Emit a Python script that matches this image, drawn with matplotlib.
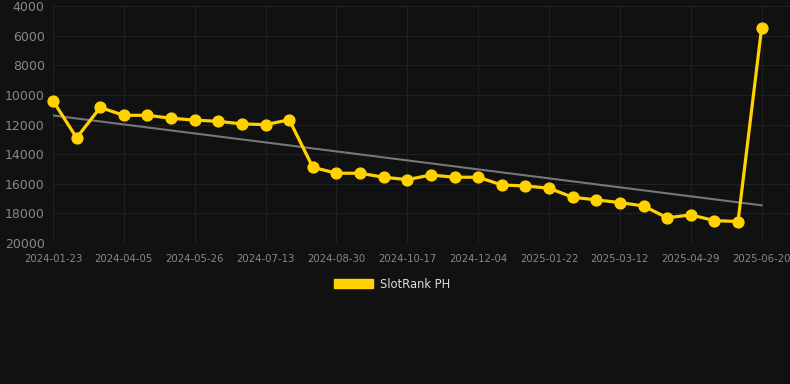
import numpy as np
import matplotlib
matplotlib.use("Agg")
import matplotlib.pyplot as plt
from matplotlib.patches import Patch

# category labels (one per data point; only every third is shown)
dates = ["2024-01-23", "2024-02-08", "2024-02-24", "2024-04-05", "2024-04-22",
         "2024-05-09", "2024-05-26", "2024-06-11", "2024-06-27", "2024-07-13",
         "2024-07-29", "2024-08-14", "2024-08-30", "2024-09-15", "2024-10-01",
         "2024-10-17", "2024-11-02", "2024-11-18", "2024-12-04", "2024-12-20",
         "2025-01-05", "2025-01-22", "2025-02-07", "2025-02-23", "2025-03-12",
         "2025-03-28", "2025-04-13", "2025-04-29", "2025-05-15", "2025-05-31",
         "2025-06-20"]
ranks = [10400, 12900, 10850, 11380, 11380, 11580, 11700, 11790, 11960, 12010,
         11680, 14890, 15290, 15290, 15560, 15720, 15410, 15560, 15560, 16080,
         16150, 16300, 16910, 17090, 17270, 17500, 18300, 18100, 18490, 18550,
         5460]
series_name = "SlotRank PH"
y_ticks = [4000, 6000, 8000, 10000, 12000, 14000, 16000, 18000, 20000]

bg = "#111111"
gold = "#FFD200"
fig = plt.figure(figsize=(7.9, 3.84), dpi=100, facecolor=bg)
ax = fig.add_axes([53 / 790, 1 - 243 / 384, 1 - 53 / 790, 237 / 384])
ax.set_facecolor(bg)

x = np.arange(len(ranks))
# trend line (least squares fit)
k, b = np.polyfit(x, ranks, 1)
ax.plot(x, k * x + b, color="#777777", linewidth=1.5, zorder=2)

ax.plot(x, ranks, color=gold, linewidth=2.3, marker="o", markersize=7.8,
        markerfacecolor=gold, markeredgecolor=gold, zorder=3, clip_on=False)

ax.set_ylim(20000, 4000)
ax.set_xlim(0, 31.2)
ax.set_yticks(y_ticks)
ax.set_yticklabels([str(v) for v in y_ticks])
ax.set_xticks(x[::3])
ax.set_xticklabels(dates[::3])
ax.tick_params(axis="y", colors="#888888", labelsize=9, length=0, pad=6)
ax.tick_params(axis="x", colors="#888888", labelsize=7.3, length=0, pad=8)
ax.grid(True, color="#202020", linewidth=0.8)
for s in ax.spines.values():
    s.set_visible(False)

leg = fig.legend(handles=[Patch(facecolor=gold, edgecolor=gold, label=series_name)],
                 loc="center", bbox_to_anchor=(0.496, 1 - 284 / 384), frameon=False,
                 fontsize=8.3, labelcolor="#dddddd", handlelength=3.4,
                 handleheight=0.9, handletextpad=0.6)

fig.savefig("out.png", dpi=100, facecolor=bg)
